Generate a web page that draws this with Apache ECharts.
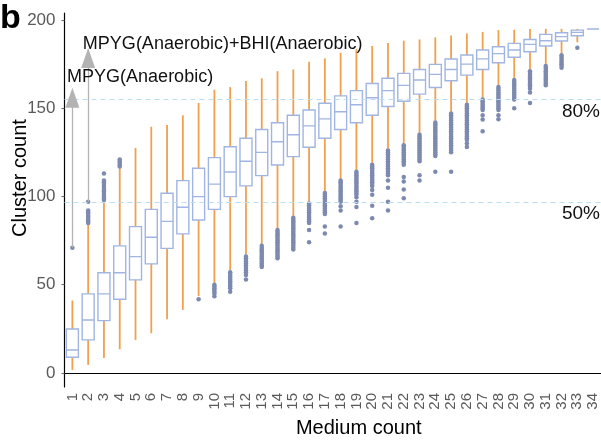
<!DOCTYPE html>
<html>
<head>
<meta charset="utf-8">
<script src="https://cdn.jsdelivr.net/npm/echarts@6/dist/echarts.min.js"></script>
<style>
  html, body { margin: 0; padding: 0; background: #fff; }
  #main { width: 601px; height: 442px; }
</style>
</head>
<body>
<div id="main"></div>
<script>
  // medium count 1..34
  var categories = ['1', '2', '3', '4', '5', '6', '7', '8', '9', '10', '11', '12', '13', '14', '15', '16', '17',
    '18', '19', '20', '21', '22', '23', '24', '25', '26', '27', '28', '29', '30', '31', '32', '33', '34'];

  // box statistics per medium count
  var whiskerLow = [1.7, 4.5, 8.5, 13.4, 18.7, 22.5, 30.4, 35.7, 43.5, 51, 58, 67, 73, 82, 89, 97, 103,
    110, 115, 119, 127, 130, 136, 143, 148, 153, 156, 163, 167, 172, 175, 181, 187.4, 194.9];
  var q1 = [8.9, 18.7, 29.6, 41.7, 52.7, 61.8, 70.6, 78.8, 86.7, 92.7, 99.9, 106, 111.8, 117.8, 122.6, 127.9, 133,
    138, 141.8, 146, 151, 154, 158, 161.8, 165.6, 168.8, 172, 175.8, 178.9, 182, 185.3, 188.1, 191.1, 194.9];
  var median = [13, 30, 44.8, 56.8, 65.9, 76.9, 85.9, 93.9, 99.9, 107, 113.9, 120, 125, 131, 135, 140, 144,
    148, 152, 156, 160, 163, 166, 169.2, 172, 175, 178, 181, 183, 186.2, 188.3, 190.6, 193, 194.9];
  var q3 = [24.9, 44.8, 56.8, 72, 82.9, 92.7, 101.8, 109, 116, 122, 128.2, 133, 138, 141.8, 146, 149, 152.8,
    157, 160, 164, 167, 169.8, 172, 174.9, 177.9, 180.2, 183, 184.9, 186.8, 189, 191.9, 192.8, 194.3, 194.9];
  var whiskerHigh = [41, 84, 97, 116, 127.5, 139.5, 140.5, 146, 153, 160.5, 162, 165.5, 167, 171, 172, 176.4, 178.3,
    181.5, 183.5, 185.3, 187, 188.3, 189, 190.2, 191.3, 192.4, 193.3, 194.3, 194.5, 195, 195, 195, 195, 194.9];

  // outliers per medium count
  var outliers = [
    [71],
    [85, 86, 87, 88, 89, 90, 91, 92, 97],
    [98, 99, 100, 101, 102, 103, 104, 105, 106, 107, 108, 109, 113],
    [117, 118, 119, 120, 121],
    [],
    [],
    [],
    [],
    [41.8],
    [43.5, 45, 46, 47, 48, 49, 50],
    [46, 48, 49, 50, 51, 52, 53, 54, 55, 56, 57],
    [53, 55.5, 57, 58, 59, 60, 61, 62, 63, 64, 65, 66],
    [60, 61, 62, 63, 64, 65, 66, 67, 68, 69, 70, 71, 72],
    [65, 66, 67, 68, 69, 70, 71, 72, 73, 74, 75, 76, 77, 78, 79, 80, 81],
    [70, 71, 72, 73, 74, 75, 76, 77, 78, 79, 80, 81, 82, 83, 84, 85, 86, 87, 88],
    [74, 81, 85, 86, 87, 88, 89, 90, 91, 92, 93, 94, 95, 96],
    [79, 83, 90, 91, 92, 93, 94, 95, 96, 97, 98, 99, 100, 101, 102],
    [83, 92, 94.5, 97, 98, 99, 100, 101, 102, 103, 104, 105, 106, 107, 108, 109],
    [85, 94, 97, 99.5, 101, 102, 103, 104, 105, 106, 107, 108, 109, 110, 111, 112, 113, 114],
    [87.6, 94.8, 101, 103.7, 106, 107, 108, 109, 110, 111, 112, 113, 114, 115, 116, 117, 118],
    [92, 97, 105, 109, 112, 113, 114, 115, 116, 117, 118, 119, 120, 121, 122, 123, 124, 125, 126],
    [99, 104, 108.5, 111, 118, 119, 120, 121, 122, 123, 124, 125, 126, 127, 128, 129],
    [109, 112, 120, 121, 122, 123, 124, 125, 126, 127, 128, 129, 130, 131, 132, 133, 134, 135],
    [114, 123, 124, 125, 126, 127, 128, 129, 130, 131, 132, 133, 134, 135, 136, 137, 138, 139, 140, 141, 142],
    [114, 125, 126, 127, 128, 129, 130, 131, 132, 133, 134, 135, 136, 137, 138, 139, 140, 141, 142, 143, 144, 145, 146, 147],
    [128, 130, 132, 133, 134, 135, 136, 137, 138, 139, 140, 141, 142, 143, 144, 145, 146, 147, 148, 149, 150, 151, 152],
    [137, 143.7, 146, 149, 150, 151, 152, 153, 154, 155],
    [143.8, 146, 149, 150, 151, 152, 153, 154, 155, 156, 157, 158, 159, 160, 161, 162],
    [150, 155, 156, 157, 158, 159, 160, 161, 162, 163, 164, 165, 166],
    [153, 159, 161, 162, 163, 164, 165, 166, 167, 168, 169, 170, 171],
    [163, 164, 165, 166, 167, 168, 169, 170, 171, 172, 173, 174],
    [173, 174, 175, 176, 177, 178, 179, 180],
    [184.3],
    []
  ];

  // reference lines (80% / 50% of all clusters)
  var refValues = [155.2, 97];
  var refLabels = ['80%', '50%'];

  var yTicks = [0, 50, 100, 150, 200];

  // arrows from the single-medium outliers
  var arrowCats = ['1', '2'];
  var arrowFrom = [71, 97];
  var arrowTo = [156, 178.5];
  var arrowTextAt = [167.6, 186.2];
  var arrowTexts = ['MPYG(Anaerobic)', 'MPYG(Anaerobic)+BHI(Anaerobic)'];

  var boxData = [];
  var whiskerData = [];
  var outlierData = [];
  for (var i = 0; i < categories.length; i++) {
    boxData.push([q1[i], q1[i], median[i], q3[i], q3[i]]);
    whiskerData.push([i, whiskerLow[i], whiskerHigh[i]]);
    for (var j = 0; j < outliers[i].length; j++) {
      outlierData.push([i, outliers[i][j]]);
    }
  }

  var arrowLines = [];
  var arrowLabels = [];
  for (var k = 0; k < arrowCats.length; k++) {
    arrowLines.push([{ coord: [arrowCats[k], arrowFrom[k]] }, { coord: [arrowCats[k], arrowTo[k]] }]);
    arrowLabels.push({ coord: [arrowCats[k], arrowTextAt[k]], value: arrowTexts[k] });
  }

  var refLineStyle = { color: '#b9def3', width: 1.2, type: [5, 4], opacity: 1 };
  var refLines = refValues.map(function (v, idx) {
    return { yAxis: v, lineStyle: refLineStyle, label: { formatter: refLabels[idx] } };
  });

  function renderWhisker(params, api) {
    var x = api.value(0);
    var lo = api.coord([x, api.value(1)]);
    var hi = api.coord([x, api.value(2)]);
    return {
      type: 'line',
      shape: { x1: lo[0], y1: lo[1], x2: hi[0], y2: hi[1] },
      style: { stroke: '#f0a04e', lineWidth: 1.8 }
    };
  }

  var myChart = echarts.init(document.getElementById('main'));
  myChart.setOption({
    backgroundColor: '#fff',
    animation: false,
    textStyle: { fontFamily: 'Liberation Sans, Arial, sans-serif' },
    title: {
      text: 'b',
      left: 0,
      top: 2,
      padding: 0,
      textStyle: { fontSize: 34, fontWeight: 'bold', color: '#000' }
    },
    grid: { left: 64.5, right: 0, top: 13, bottom: 55, containLabel: false, outerBoundsMode: 'none' },
    xAxis: {
      type: 'category',
      data: categories,
      boundaryGap: true,
      name: 'Medium count',
      nameLocation: 'middle',
      nameGap: 31,
      nameTextStyle: { fontSize: 20, color: '#000', padding: [0, 0, 0, 52] },
      axisLine: { lineStyle: { color: '#000', width: 1.2 } },
      axisTick: { alignWithLabel: true, length: 4, lineStyle: { color: '#555' } },
      axisLabel: { rotate: 90, interval: 0, fontSize: 15, color: '#5a5a5a', margin: 6 },
      splitLine: { show: false }
    },
    yAxis: {
      type: 'value',
      min: -8,
      max: 204,
      name: 'Cluster count',
      nameLocation: 'middle',
      nameGap: 34,
      nameMoveOverlap: false,
      nameTextStyle: { fontSize: 20, color: '#000', padding: [0, 0, 0, 44] },
      axisLine: { show: true, lineStyle: { color: '#000', width: 1.2 } },
      axisTick: { show: true, customValues: yTicks, length: 3, lineStyle: { color: '#666' } },
      axisLabel: { customValues: yTicks, fontSize: 17, color: '#5a5a5a', margin: 9 },
      splitLine: { show: false }
    },
    series: [
      {
        name: 'whisker',
        type: 'custom',
        renderItem: renderWhisker,
        encode: { x: 0, y: [1, 2] },
        data: whiskerData,
        z: 1
      },
      {
        name: 'box',
        type: 'boxplot',
        data: boxData,
        boxWidth: [12, 12],
        itemStyle: { color: '#fff', borderColor: '#a0b5e2', borderWidth: 1.4 },
        z: 2
      },
      {
        name: 'ref',
        type: 'line',
        data: [],
        z: 2,
        markLine: {
          silent: true,
          symbol: 'none',
          lineStyle: refLineStyle,
          label: {
            position: 'insideEndBottom',
            distance: [1, 3],
            fontSize: 19,
            color: '#111'
          },
          data: refLines
        }
      },
      {
        name: 'outlier',
        type: 'scatter',
        data: outlierData,
        symbolSize: 4.5,
        itemStyle: { color: '#7d8ab0', opacity: 1 },
        z: 3,
        markLine: {
          silent: true,
          symbol: ['none', 'triangle'],
          symbolSize: [14, 20],
          lineStyle: { color: '#b3b3b3', width: 1.3, type: 'solid' },
          itemStyle: { color: '#b3b3b3' },
          label: { show: false },
          data: arrowLines
        },
        markPoint: {
          silent: true,
          symbol: 'circle',
          symbolSize: 1,
          itemStyle: { color: 'rgba(0,0,0,0)' },
          label: {
            show: true,
            position: [-4.8, 0],
            align: 'left',
            verticalAlign: 'middle',
            fontSize: 18,
            color: '#111',
            formatter: '{c}'
          },
          data: arrowLabels
        }
      }
    ]
  });
</script>
</body>
</html>
